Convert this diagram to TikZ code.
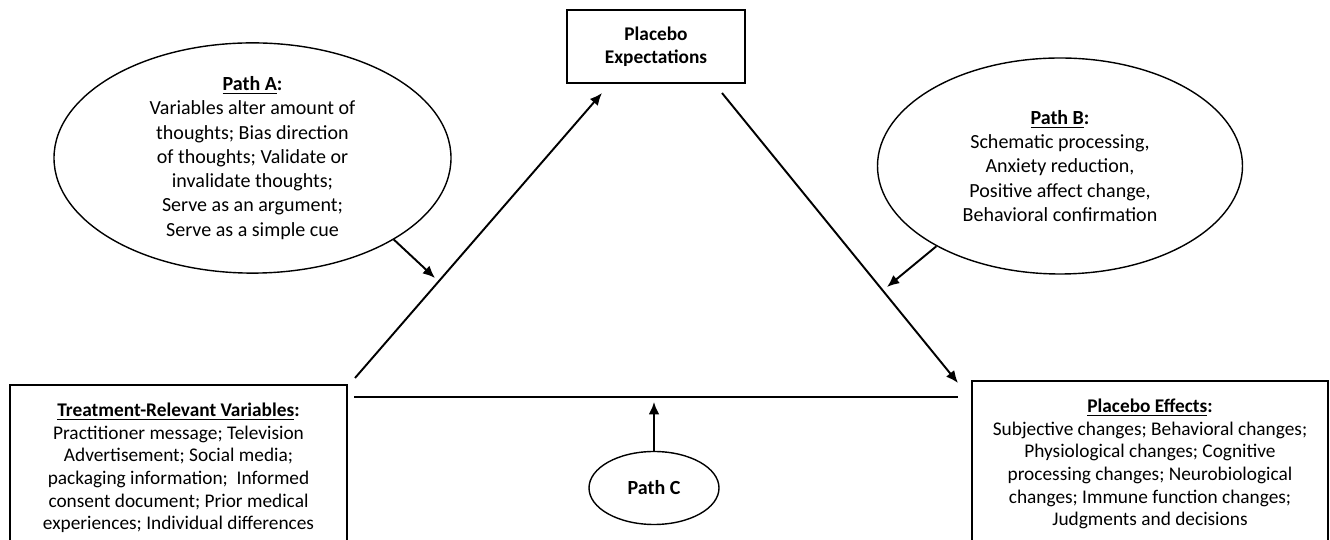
\documentclass[tikz,border=0pt]{standalone}
\usepackage{fontspec}
\setmainfont{Carlito}
\usetikzlibrary{shapes.geometric,arrows.meta}

\begin{document}
\begin{tikzpicture}[
    box/.style={draw, line width=1.2pt, align=center, inner xsep=2pt, inner ysep=0.36cm,
        font=\fontsize{11}{12.9}\selectfont},
    oval/.style={draw, ellipse, line width=0.8pt, align=center, inner sep=0pt,
        font=\fontsize{11.4}{13.8}\selectfont},
    arr/.style={-{Latex[length=7pt,width=6pt]}, line width=1.1pt},
    font=\fontsize{11}{13}\selectfont]

    % picture frame
    \useasboundingbox (0,0) rectangle (26.6,10.8);
    \clip (0,0) rectangle (26.6,10.8);

    % boxes
    \node[box, inner ysep=0pt, minimum width=3.56cm, minimum height=1.46cm] (exp) at (13.12,9.87)
        {\bfseries Placebo\\\bfseries Expectations};
    \node[box, anchor=north, minimum width=6.74cm] (trv) at (3.57,3.12)
        {\underline{\textbf{Treatment-Relevant Variables}}\textbf{:}\\
         Practitioner message; Television\\
         Advertisement; Social media;\\
         packaging information;\ \ Informed\\
         consent document; Prior medical\\
         experiences; Individual differences};
    \node[box, anchor=north, minimum width=7.12cm] (eff) at (23.0,3.2)
        {\underline{\textbf{Placebo Effects}}\textbf{:}\\
         Subjective changes; Behavioral changes;\\
         Physiological changes; Cognitive\\
         processing changes; Neurobiological\\
         changes; Immune function changes;\\
         Judgments and decisions};

    % paths
    \node[oval, minimum width=7.94cm, minimum height=4.56cm] (pathA) at (5.05,7.64)
        {\underline{\textbf{Path A}}\textbf{:}\\
         Variables alter amount of\\
         thoughts; Bias direction\\
         of thoughts; Validate or\\
         invalidate thoughts;\\
         Serve as an argument;\\
         Serve as a simple cue};
    \node[oval, minimum width=7.3cm, minimum height=4.32cm] (pathB) at (21.2,7.48)
        {\underline{\textbf{Path B}}\textbf{:}\\
         Schematic processing,\\
         Anxiety reduction,\\
         Positive affect change,\\
         Behavioral confirmation};
    \node[oval, minimum width=2.6cm, minimum height=1.46cm] (pathC) at (13.08,1.04)
        {\bfseries Path C};

    % triangle corners
    \coordinate (leftTop) at (7.10,3.24);
    \coordinate (expIn) at (12.04,8.94);
    \coordinate (expOut) at (14.44,8.94);
    \coordinate (effIn) at (19.16,3.14);
    \coordinate (baseL) at (7.08,2.86);
    \coordinate (baseR) at (19.16,2.86);
    \coordinate (baseMid) at (13.08,2.76);
    \coordinate (aHit) at (8.70,5.24);
    \coordinate (bHit) at (17.74,5.06);

    % triangle
    \draw[arr] (leftTop) -- (expIn);
    \draw[arr] (expOut) -- (effIn);
    \draw[line width=1.5pt] (baseL) -- (baseR);

    % moderating arrows
    \draw[arr] (pathA.-30) -- (aHit);
    \draw[arr] (pathB.213) -- (bHit);
    \draw[arr] (pathC.north) -- (baseMid);
\end{tikzpicture}
\end{document}
